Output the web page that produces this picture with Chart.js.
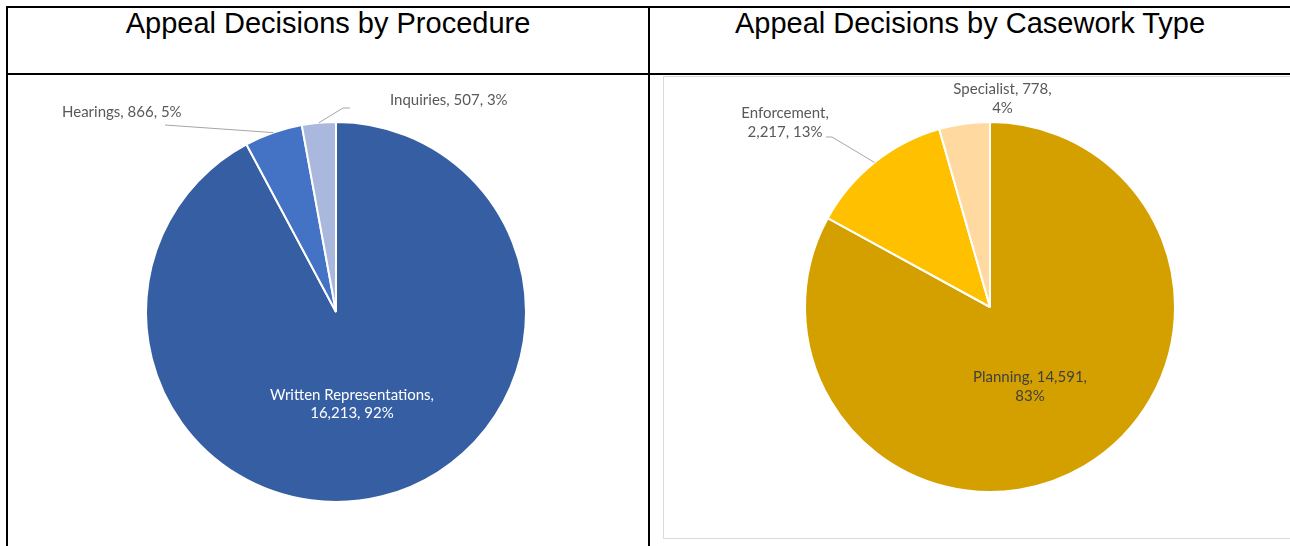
<!DOCTYPE html>
<html><head><meta charset="utf-8">
<script src="https://cdn.jsdelivr.net/npm/chart.js@4"></script>
<style>
body{margin:0;width:1290px;height:546px;overflow:hidden;background:#fff;position:relative;font-family:'Liberation Sans',Arial,sans-serif}
.ln{position:absolute;background:#000}
.title{position:absolute;top:9px;font-size:29px;line-height:29px;text-align:center;color:#000;white-space:nowrap}
canvas{position:absolute}
.box{position:absolute;left:663px;top:76px;width:700px;height:461px;border:1px solid #d9d9d9}
</style></head><body>
<div class="box"></div>
<div class="ln" style="left:6px;top:6px;width:1290px;height:2px"></div>
<div class="ln" style="left:6px;top:6px;width:2px;height:546px"></div>
<div class="ln" style="left:648px;top:6px;width:2px;height:546px"></div>
<div class="ln" style="left:6px;top:73px;width:1290px;height:2px"></div>
<div class="title" style="left:8px;width:640px">Appeal Decisions by Procedure</div>
<div class="title" style="left:650px;width:640px">Appeal Decisions by Casework Type</div>
<canvas id="c1" width="640" height="471" style="left:8px;top:75px"></canvas>
<canvas id="c2" width="639" height="471" style="left:651px;top:75px"></canvas>
<script>
const procCategories = ['Written Representations', 'Hearings', 'Inquiries'];
const procValues = [16213, 866, 507];
const caseCategories = ['Planning', 'Enforcement', 'Specialist'];
const caseValues = [14591, 2217, 778];

const procColors = ['#365EA3', '#4472C4', '#A9B8DC'];
const caseColors = ['#D4A000', '#FFC000', '#FFD9A0'];

const LABEL_FONT = '15px Lato, "Open Sans", sans-serif';

const pieLabels = {
  id: 'pieLabels',
  afterDatasetsDraw(chart, args, opts) {
    const ctx = chart.ctx;
    const meta = chart.getDatasetMeta(0);
    const data = chart.data.datasets[0].data;
    const total = data.reduce((a, b) => a + b, 0);
    meta.data.forEach((arc, i) => {
      const L = opts.layout[i];
      const p = arc.getProps(['x', 'y', 'startAngle', 'endAngle', 'outerRadius'], true);
      const mid = (p.startAngle + p.endAngle) / 2;
      const parts = [chart.data.labels[i], data[i].toLocaleString('en-US'), Math.round(data[i] / total * 100) + '%'];
      const lines = L.brk ? [parts.slice(0, L.brk).join(', ') + ',', parts.slice(L.brk).join(', ')] : [parts.join(', ')];
      if (L.leader) {
        ctx.save();
        ctx.strokeStyle = '#a6a6a6';
        ctx.lineWidth = 1;
        ctx.beginPath();
        ctx.moveTo(p.x + Math.cos(mid) * p.outerRadius, p.y + Math.sin(mid) * p.outerRadius);
        L.leader.forEach(q => ctx.lineTo(p.x + q[0], p.y + q[1]));
        ctx.stroke();
        ctx.restore();
      }
      ctx.save();
      ctx.font = opts.font;
      ctx.fillStyle = L.color || opts.color;
      ctx.textAlign = L.align || 'center';
      ctx.textBaseline = 'middle';
      lines.forEach((t, k) => ctx.fillText(t, p.x + L.dx, p.y + L.dy + k * opts.lineHeight));
      ctx.restore();
    });
  }
};

function makePie(id, labels, values, colors, padding, layout, lineHeight) {
  return new Chart(document.getElementById(id), {
    type: 'pie',
    data: { labels: labels, datasets: [{ data: values, backgroundColor: colors, borderColor: '#ffffff', borderWidth: 2 }] },
    options: {
      responsive: false,
      animation: false,
      layout: { padding: padding },
      plugins: {
        legend: { display: false },
        tooltip: { enabled: false },
        pieLabels: { font: LABEL_FONT, color: '#595959', lineHeight: lineHeight, layout: layout }
      }
    },
    plugins: [pieLabels]
  });
}

makePie('c1', procCategories, procValues, procColors,
  { left: 137, right: 121, top: 46, bottom: 43 },
  [
    { dx: 16, dy: 83, brk: 1, color: '#ffffff' },
    { dx: -274, dy: -200, align: 'left', leader: [[-171, -187]] },
    { dx: 54, dy: -212, align: 'left', leader: [[7, -204], [14, -204]] }
  ], 18);

makePie('c2', caseCategories, caseValues, caseColors,
  { left: 153, right: 114, top: 46, bottom: 53 },
  [
    { dx: 40, dy: 70, brk: 2, color: '#404040' },
    { dx: -205, dy: -194, brk: 1, leader: [[-158, -170], [-164, -170]] },
    { dx: 12.5, dy: -218, brk: 2 }
  ], 19);
</script>
</body></html>
